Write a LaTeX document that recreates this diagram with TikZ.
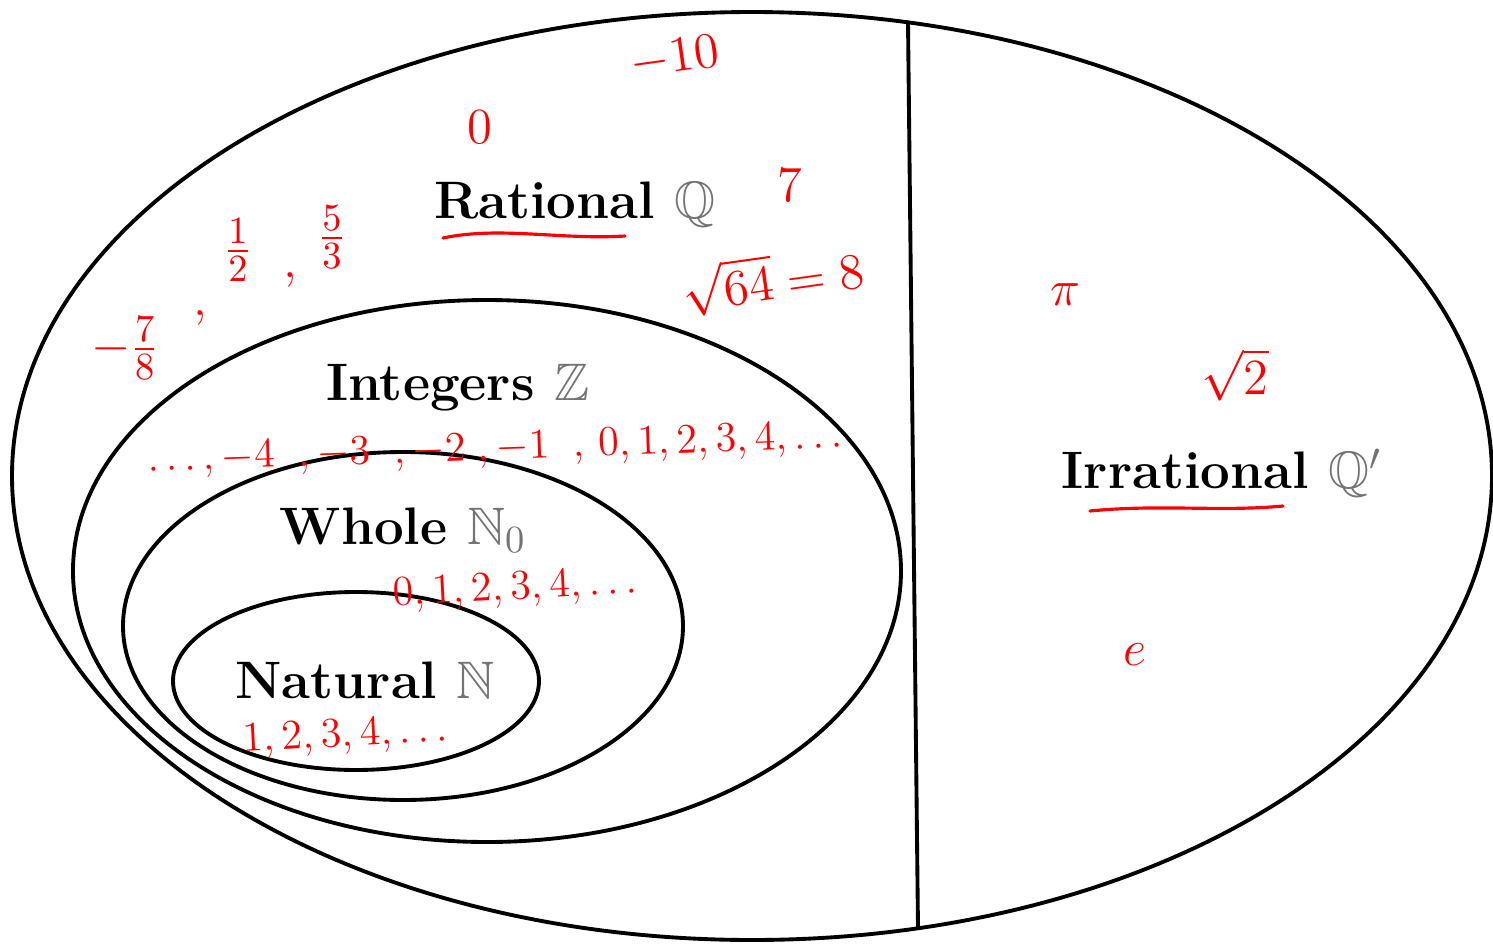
\documentclass[tikz,border=0pt]{standalone}
\usepackage{amsmath,amssymb}
\usepackage{xcolor}
\usetikzlibrary{positioning,calc}

\definecolor{bbgray}{gray}{0.45}

\begin{document}
\begin{tikzpicture}[x=0.01cm, y=-0.01cm,
  setline/.style={line width=1.1pt},
  setlabel/.style={font=\fontsize{15}{18}\selectfont\bfseries, inner sep=0pt},
  inknum/.style={text=red, font=\fontsize{15}{17}\selectfont, inner sep=0pt},
  inklist/.style={inknum, font=\fontsize{12}{14}\selectfont},
  inkline/.style={red, line width=0.9pt, line cap=round}]
  \useasboundingbox (0,0) rectangle (1493,945);
  \clip (0,0) rectangle (1493,945);

  % Set boundaries
  \draw[setline] (752,476) ellipse [x radius=740, y radius=464];   % Real
  \draw[setline] (487,571) ellipse [x radius=414, y radius=271];   % Integers
  \draw[setline] (403,626) ellipse [x radius=280, y radius=174];   % Whole
  \draw[setline] (356,681) ellipse [x radius=183, y radius=89];    % Natural
  \coordinate (divtop) at (908,22);
  \coordinate (divbot) at (918,928);
  \draw[setline] (divtop) -- (divbot); % Rational | Irrational

  % Set names
  \node[setlabel] (rational) at (575,205) {Rational \textcolor{bbgray}{$\mathbb{Q}$}};
  \node[setlabel] (integers) at (458,388) {Integers \textcolor{bbgray}{$\mathbb{Z}$}};
  \node[setlabel] (whole) at (403,530) {Whole \textcolor{bbgray}{$\mathbb{N}_0$}};
  \node[setlabel] (natural) at (365,680) {Natural \textcolor{bbgray}{$\mathbb{N}$}};
  \node[setlabel] (irrational) at (1222,473) {Irrational \textcolor{bbgray}{$\mathbb{Q}'$}};

  % Red underlines
  \draw[inkline] (443,238) .. controls (500,226) and (560,240) .. (625,236);
  \draw[inkline] (1090,511) .. controls (1160,504) and (1220,512) .. (1283,506);

  % Red examples: rational
  \node[inknum, rotate=8] (mten) at (675,58) {$-10$};
  \node[inknum] (zero) at (480,127) {$0$};
  \node[inknum] (seven) at (790,185) {$7$};
  \node[inknum, rotate=8] (root64) at (773,280) {$\sqrt{64}=8$};
  \node[inknum] (half) at (238,250) {$\frac{1}{2}$};
  \node[inknum] at (290,280) {$,$};
  \node[inknum] (fivethirds) at (332,237) {$\frac{5}{3}$};
  \node[inknum] (mseveneighths) at (125,348) {$-\frac{7}{8}$};
  \node[inknum] at (200,318) {$,$};

  % Red examples: integers, whole, natural
  \node[inklist, rotate=2] (intlist) at (495,450)
    {$\ldots,-4\;\;,-3\;\;,-2\;,-1\;\;,\,0,1,2,3,4,\ldots$};
  \node[inklist, rotate=3] (wholelist) at (515,590) {$0,1,2,3,4,\ldots$};
  \node[inklist, rotate=3] (natlist) at (345,737) {$1,2,3,4,\ldots$};

  % Red examples: irrational
  \node[inknum] (pi) at (1065,295) {$\pi$};
  \node[inknum] (root2) at (1235,375) {$\sqrt{2}$};
  \node[inknum] (euler) at (1135,655) {$e$};
\end{tikzpicture}
\end{document}
